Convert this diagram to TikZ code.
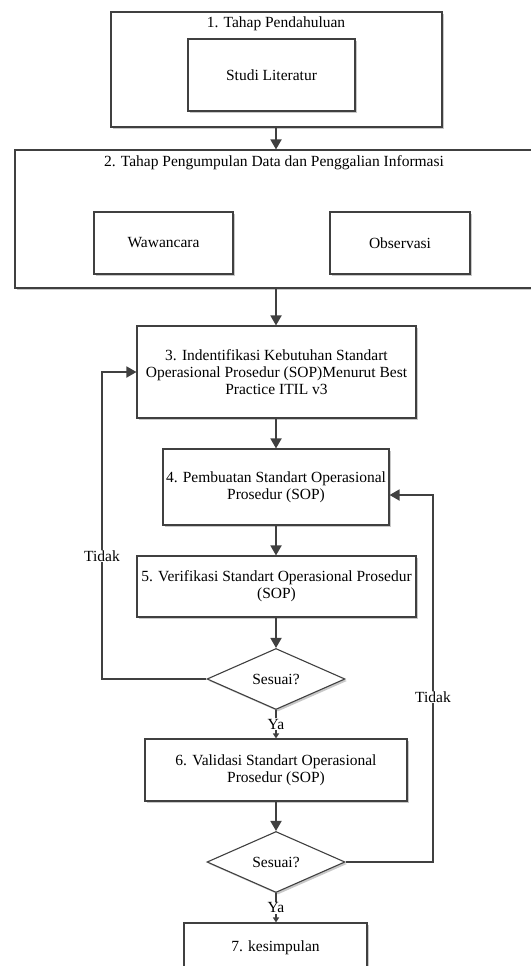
\documentclass[tikz,border=0pt]{standalone}
\usepackage{fontspec}
\setmainfont{Liberation Serif}
\usetikzlibrary{arrows.meta,shapes.geometric,shadows}
\definecolor{linec}{HTML}{404040}
\definecolor{shadowc}{HTML}{C8C8C8}
\begin{document}
\begin{tikzpicture}[x=1pt,y=-1pt,
  every node/.style={font=\fontsize{15.5}{16.7}\selectfont, text=black},
  boxstyle/.style={draw=linec, line width=1.1pt, fill=white, inner sep=0pt, align=center,
    drop shadow={shadow xshift=2pt, shadow yshift=-2pt, fill=shadowc, opacity=1}},
  decision/.style={boxstyle, diamond, minimum width=138pt, minimum height=61pt},
  conn/.style={draw=linec, line width=1.8pt},
  bigarrow/.style={conn, -{Triangle[length=10pt,width=11pt]}},
  smallarrow/.style={draw=linec, line width=1.3pt, -{Triangle[length=5pt,width=6pt]}},
  lbl/.style={fill=white, inner sep=1pt}
]
\useasboundingbox (0,0) rectangle (530,966);

% Stage 1
\node[boxstyle, minimum width=331pt, minimum height=115pt] (b1) at (276.5,69.5) {};
\node (t1) at (276,24) {1. Tahap Pendahuluan};
\node[boxstyle, minimum width=167pt, minimum height=72pt] (s1) at (271.5,75) {Studi Literatur};

% Stage 2
\node[boxstyle, minimum width=522pt, minimum height=138pt] (b2) at (276,219) {};
\node (t2) at (274,163) {2. Tahap Pengumpulan Data dan Penggalian Informasi};
\node[boxstyle, minimum width=139pt, minimum height=62pt] (w) at (163.5,243) {Wawancara};
\node[boxstyle, minimum width=140pt, minimum height=62pt] (o) at (400,243) {Observasi};

% Stages 3-7
\node[boxstyle, minimum width=279pt, minimum height=92pt] (b3) at (276.5,372)
  {3. Indentifikasi Kebutuhan Standart\\Operasional Prosedur (SOP)Menurut Best\\Practice ITIL v3};
\node[boxstyle, minimum width=226pt, minimum height=76pt] (b4) at (276,487)
  {4. Pembuatan Standart Operasional\\Prosedur (SOP)};
\node[boxstyle, minimum width=279pt, minimum height=61pt] (b5) at (276.5,586.5)
  {5. Verifikasi Standart Operasional Prosedur\\(SOP)};
\node[decision] (d1) at (276,679) {Sesuai?};
\node[boxstyle, minimum width=262pt, minimum height=62pt] (b6) at (276,770)
  {6. Validasi Standart Operasional\\Prosedur (SOP)};
\node[decision] (d2) at (276,862) {Sesuai?};
\node[boxstyle, minimum width=183pt, minimum height=49pt] (b7) at (275.5,947.5) {7. kesimpulan};

% main flow
\draw[bigarrow] (b1.south -| t1) -- (b2.north -| t1);
\draw[bigarrow] (b2.south -| d1) -- (b3.north -| d1);
\draw[bigarrow] (b3.south -| d1) -- (b4.north -| d1);
\draw[bigarrow] (b4.south -| d1) -- (b5.north -| d1);
\draw[bigarrow] (b5.south -| d1) -- (d1.north);
\draw[smallarrow] (d1.south) -- node[lbl] (ya1) {Ya} (b6.north -| d1);
\draw[bigarrow] (b6.south -| d1) -- (d2.north);
\draw[smallarrow] (d2.south) -- node[lbl] (ya2) {Ya} (b7.north -| d2);

% loops
\coordinate (lt) at (102,372);
\coordinate (rt) at (433,495);
\draw[bigarrow] (d1.west) -| (lt) -- (lt -| b3.west);
\node[lbl] (tidak1) at (102,556) {Tidak};
\draw[bigarrow] (d2.east) -| (rt) -- (rt -| b4.east);
\node[lbl] (tidak2) at (433,697) {Tidak};
\end{tikzpicture}
\end{document}
